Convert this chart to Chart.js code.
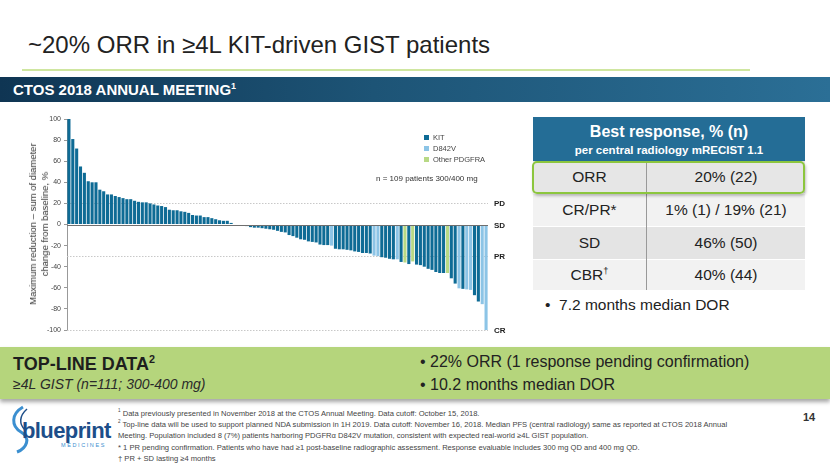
<!DOCTYPE html>
<html>
<head>
<meta charset="utf-8">
<script src="https://cdn.jsdelivr.net/npm/chart.js@4.4.0/dist/chart.umd.min.js"></script>
<style>
  html, body { margin: 0; padding: 0; }
  body { width: 830px; height: 467px; position: relative; overflow: hidden; background: #fff;
         font-family: 'Liberation Sans', Arial, sans-serif; color: #222; }
  .abs { position: absolute; white-space: nowrap; }
  #title { left: 28px; top: 31px; font-size: 24px; color: #222; }
  #rule { left: 22px; top: 69px; width: 728px; height: 2px; background: #cfe6a0; }
  #banner { left: 0; top: 77px; width: 830px; height: 25px;
            background: linear-gradient(to right, #0f3553 0%, #1d5476 45%, #2b6f96 100%); }
  #banner span { position: absolute; left: 13px; top: 4px; color: #fff; font-weight: bold; font-size: 15px; }
  sup { font-size: 60%; line-height: 0; vertical-align: super; }
  #chartBox { left: 30px; top: 110px; width: 480px; height: 232px; }
  #ytitle { left: 39px; top: 224px; transform: translate(-50%, -50%) rotate(-90deg);
            font-size: 9.5px; line-height: 12px; text-align: center; color: #333; }
  #legend { left: 424px; top: 132px; font-size: 7.5px; color: #444; line-height: 11px; }
  #legend i { display: inline-block; width: 5px; height: 5px; margin-right: 4px; vertical-align: 0; }
  #nnote { left: 376px; top: 174px; font-size: 8px; color: #333; }
  table { position: absolute; left: 533px; top: 117px; width: 272px; border-collapse: collapse; }
  th { background: #246d96; color: #fff; height: 44px; padding: 0; font-weight: bold; }
  th .t1 { font-size: 16px; display: block; }
  th .t2 { font-size: 11.5px; display: block; margin-top: 3px; }
  td { text-align: center; font-size: 15.5px; padding: 0; height: 32px; color: #222; }
  td.c1 { width: 113px; border-right: 1px solid #999; }
  tr.r1 td { background: #e6e6e6; }
  tr.r2 td { background: #f2f2f2; border-top: 1px solid #fff; }
  tr.r3 td { background: #e4e4e4; border-top: 1px solid #fff; }
  tr.r4 td { background: #f2f2f2; border-top: 1px solid #fff; height: 30px; }
  #orrBox { left: 532px; top: 161px; width: 269px; height: 29px; border: 2.5px solid #8cc63e;
            border-radius: 5px; box-shadow: 1px 2px 3px rgba(0,0,0,0.25); }
  #dor { left: 545px; top: 296px; font-size: 15.5px; }
  #band { left: 0; top: 347px; width: 830px; height: 52px; background: #b5d57c;
          box-shadow: 0 3px 4px rgba(0,0,0,0.35); }
  #tl1 { left: 13px; top: 354px; font-size: 18px; font-weight: bold; color: #1e1e1e; }
  #tl2 { left: 13px; top: 376px; font-size: 14px; font-style: italic; color: #2a2a2a; }
  #tr1 { left: 420px; top: 353px; font-size: 16px; color: #222; }
  #tr2 { left: 420px; top: 376px; font-size: 16px; color: #222; }
  #foot { left: 118px; top: 408px; font-size: 7.6px; line-height: 11.2px; color: #444; }
  #page { left: 803px; top: 411px; font-size: 11px; font-weight: bold; color: #333; }
  #logo { left: 6px; top: 404px; }
</style>
</head>
<body>
<div class="abs" id="title">~20% ORR in ≥4L KIT-driven GIST patients</div>
<div class="abs" id="rule"></div>
<div class="abs" id="banner"><span>CTOS 2018 ANNUAL MEETING<sup>1</sup></span></div>

<div class="abs" id="chartBox"><canvas id="waterfall"></canvas></div>
<div class="abs" id="ytitle">Maximum reduction – sum of diameter<br>change from baseline, %</div>
<div class="abs" id="legend"></div>
<div class="abs" id="nnote">n = 109 patients 300/400 mg</div>

<table>
  <tr><th colspan="2"><span class="t1">Best response, % (n)</span><span class="t2">per central radiology mRECIST 1.1</span></th></tr>
  <tr class="r1"><td class="c1">ORR</td><td>20% (22)</td></tr>
  <tr class="r2"><td class="c1">CR/PR*</td><td>1% (1) / 19% (21)</td></tr>
  <tr class="r3"><td class="c1">SD</td><td>46% (50)</td></tr>
  <tr class="r4"><td class="c1">CBR<sup>†</sup></td><td>40% (44)</td></tr>
</table>
<div class="abs" id="orrBox"></div>
<div class="abs" id="dor">•&nbsp; 7.2 months median DOR</div>

<div class="abs" id="band"></div>
<div class="abs" id="tl1">TOP-LINE DATA<sup>2</sup></div>
<div class="abs" id="tl2">≥4L GIST (n=111; 300-400 mg)</div>
<div class="abs" id="tr1">• 22% ORR (1 response pending confirmation)</div>
<div class="abs" id="tr2">• 10.2 months median DOR</div>

<div class="abs" id="logo">
  <svg width="110" height="50" viewBox="0 0 110 50">
    <path d="M17 3 C5 10, 5 22, 15 28 C25 34, 21 44, 11 48" fill="none" stroke="#3b8fd0" stroke-width="3"/>
    <path d="M21 5 C13 12, 13 20, 19 26" fill="none" stroke="#1d4e89" stroke-width="1.5"/>
    <text x="16" y="34" font-family="Liberation Sans, Arial" font-weight="bold" font-size="22" fill="#1d4e89" letter-spacing="-0.6">blueprint</text>
    <text x="55" y="43" font-family="Liberation Sans, Arial" font-size="5.5" fill="#3b8fd0" letter-spacing="1.6">MEDICINES</text>
  </svg>
</div>
<div class="abs" id="foot"><sup>1</sup> Data previously presented in November 2018 at the CTOS Annual Meeting. Data cutoff: October 15, 2018.<br><sup>2</sup> Top-line data will be used to support planned NDA submission in 1H 2019. Data cutoff: November 16, 2018. Median PFS (central radiology) same as reported at CTOS 2018 Annual<br>Meeting. Population included 8 (7%) patients harboring PDGFRα D842V mutation, consistent with expected real-world ≥4L GIST population.<br>* 1 PR pending confirmation. Patients who have had ≥1 post-baseline radiographic assessment. Response evaluable includes 300 mg QD and 400 mg QD.<br>† PR + SD lasting ≥4 months</div>
<div class="abs" id="page">14</div>

<script>
// Best % change per patient, sorted (109 patients)
const responses = [
  100, 81, 72, 55, 49, 41, 40, 40, 33, 31.5,
  28.5, 28.5, 27, 26, 25, 24, 24, 22.5, 21.5, 21,
  21, 20, 19, 18, 17.5, 16.5, 14, 13.5, 13.5, 12.5,
  12, 11, 9, 8.5, 8.5, 7, 7, 6, 5, 4,
  3.5, 3.5, 1.5, -0.5, -1, -1, -1.5, -2.5, -3, -3,
  -3.5, -4, -4.5, -5, -6, -7, -7.5, -10, -11, -12.5,
  -14, -14.5, -16, -16.5, -17, -19, -19.5, -19.5, -20, -23,
  -23.5, -23.5, -24, -24.5, -25.5, -26, -27, -27, -27.5, -29.5,
  -30, -31, -31.5, -32.5, -33, -33, -35.5, -36, -37.5, -35,
  -38, -38.5, -40, -42, -43, -45, -46, -46, -46, -51,
  -56, -60.5, -61, -61.5, -62, -67, -73, -75.5, -100
];
// patient positions (0-based) by mutation; everyone else is KIT
const d842vPatients = [68, 79, 80, 85, 101, 103, 104, 107, 108];
const otherPdgfraPatients = [87, 89, 98];

const categories = ['KIT', 'D842V', 'Other PDGFRA'];
const catColors = ['#0e6b95', '#8cc4e6', '#b8d985'];
const yTicks = [100, 80, 60, 40, 20, 0, -20, -40, -60, -80, -100];
const refLines = [
  { value: 20, label: 'PD', solid: false },
  { value: 0, label: 'SD', solid: true },
  { value: -30, label: 'PR', solid: false },
  { value: -100, label: 'CR', solid: false }
];

function mutationOf(i) {
  if (d842vPatients.includes(i)) return 'D842V';
  if (otherPdgfraPatients.includes(i)) return 'Other PDGFRA';
  return 'KIT';
}

// legend
document.getElementById('legend').innerHTML = categories.map((c, k) =>
  '<div><i style="background:' + catColors[k] + '"></i>' + c + '</div>').join('');

const refPlugin = {
  id: 'refLines',
  beforeDatasetsDraw(chart) {
    const { ctx, chartArea, scales: { y } } = chart;
    ctx.save();
    refLines.filter(r => !r.solid).forEach(r => {
      const py = Math.round(y.getPixelForValue(r.value)) + 0.5;
      ctx.strokeStyle = '#c8c8c8';
      ctx.lineWidth = 1;
      ctx.setLineDash([1.5, 1.5]);
      ctx.beginPath();
      ctx.moveTo(chartArea.left, py);
      ctx.lineTo(chartArea.right, py);
      ctx.stroke();
    });
    ctx.restore();
  },
  afterDatasetsDraw(chart) {
    const { ctx, chartArea, scales: { y } } = chart;
    ctx.save();
    refLines.forEach(r => {
      const py = Math.round(y.getPixelForValue(r.value)) + 0.5;
      if (r.solid) {
        ctx.strokeStyle = '#6e6e6e';
        ctx.lineWidth = 1;
        ctx.beginPath();
        ctx.moveTo(chartArea.left, py);
        ctx.lineTo(chartArea.right, py);
        ctx.stroke();
      }
      ctx.fillStyle = '#222';
      ctx.font = 'bold 8px "Liberation Sans", Arial';
      ctx.textBaseline = 'middle';
      ctx.fillText(r.label, chartArea.right + 6, py);
    });
    ctx.restore();
  }
};

new Chart(document.getElementById('waterfall').getContext('2d'), {
  type: 'bar',
  data: {
    labels: responses.map((_, i) => i + 1),
    datasets: categories.map((cat, k) => ({
      label: cat,
      data: responses.map((v, i) => mutationOf(i) === cat ? v : null),
      backgroundColor: catColors[k],
      borderWidth: 0,
      barPercentage: 0.8,
      categoryPercentage: 1
    }))
  },
  options: {
    responsive: true, maintainAspectRatio: false, animation: false,
    layout: { padding: { top: 9, bottom: 12, right: 22, left: 0 } },
    plugins: { legend: { display: false }, tooltip: { enabled: false } },
    scales: {
      x: { stacked: true, display: false },
      y: {
        stacked: true, min: -100, max: 100,
        afterBuildTicks: scale => { scale.ticks = yTicks.map(v => ({ value: v })); },
        afterFit: scale => { scale.width = 37; },
        ticks: { font: { size: 7, family: "'Liberation Sans', Arial" }, color: '#444', padding: 3 },
        grid: { drawOnChartArea: false, tickLength: 3, color: '#999' },
        border: { color: '#999' }
      }
    }
  },
  plugins: [refPlugin]
});
</script>
</body>
</html>
